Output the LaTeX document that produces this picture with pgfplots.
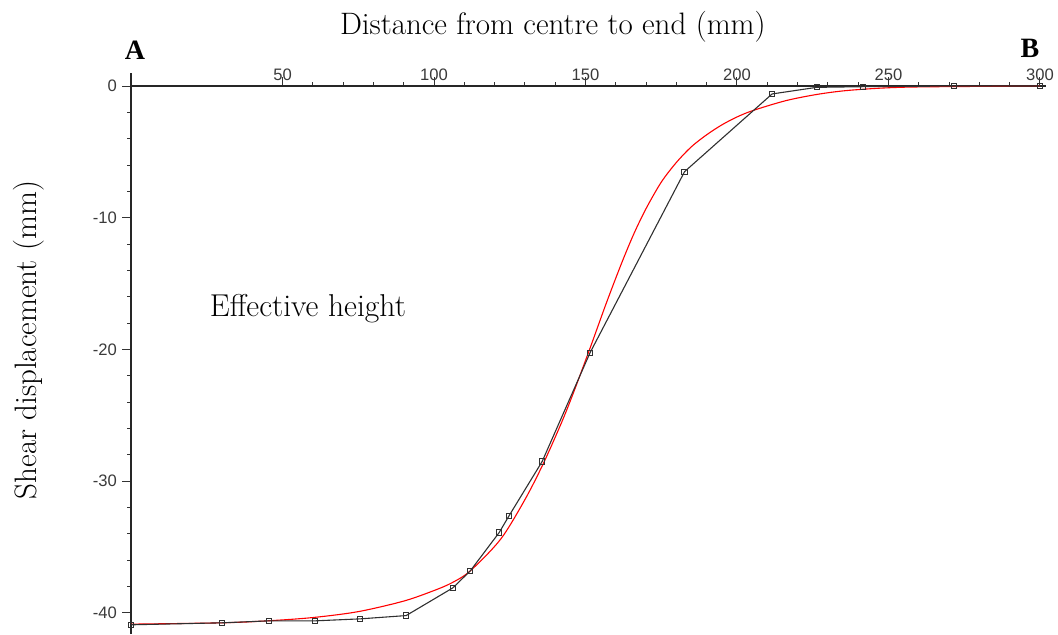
\documentclass[border=0pt]{standalone}
\usepackage{pgfplots}
\pgfplotsset{compat=1.18}
\usepackage{fontspec}
\newfontfamily\ticksans{Liberation Sans}
\newfontfamily\boldserif{Liberation Serif}
\definecolor{ticktxt}{HTML}{3A3A3A}
\definecolor{dataline}{HTML}{303030}
\begin{document}
\begin{tikzpicture}
\begin{axis}[
  scale only axis,
  width=457.5pt, height=274pt,
  xmin=0, xmax=302, ymin=-41.6, ymax=0,
  axis x line=top, axis y line=left,
  axis line style={-, color=black!85, line width=0.6pt},
  clip=false,
  xtick={50,100,150,200,250,300},
  minor x tick num=4,
  ytick={-40,-30,-20,-10,0},
  yticklabels={-40,-30,-20,-10,0},
  xticklabels={50,100,150,200,250,300},
  minor y tick num=4,
  tick align=outside,
  major tick length=4.5pt, minor tick length=2pt,
  every tick/.style={color=black!80, line width=0.5pt},
  ticklabel style={font=\ticksans\fontsize{8.3}{9.5}\selectfont, color=ticktxt},
  xticklabel style={anchor=south, yshift=-5.5pt},
  yticklabel style={anchor=east, xshift=1pt},
]
\draw[black!85, line width=0.6pt] (axis cs:0,0) -- (axis cs:0,1.0);

\addplot[color=red, line width=0.55pt, smooth, tension=0.5] coordinates {
(0,-40.85) (30,-40.75) (45,-40.6) (60,-40.35) (75,-39.9) (90,-39.1)
(100,-38.3) (106,-37.7) (112,-36.8) (122,-34.4) (130,-31.4) (136,-28.7)
(142,-25.6) (146,-23.3) (151.5,-19.9) (157,-16.4) (162,-13.4) (166,-11.2)
(170,-9.3) (175,-7.3) (180,-5.8) (185,-4.6) (190,-3.7) (195,-2.95)
(200,-2.35) (205.4,-1.85) (216.3,-1.1)
(227.4,-0.6) (238.4,-0.3) (257,-0.08) (300,0)
};

\addplot[color=dataline, line width=0.55pt, mark=square, mark size=1.3pt,
  mark options={solid, line width=0.5pt, fill=white}] coordinates {
(0,-40.9) (30,-40.75) (45.5,-40.6) (60.8,-40.6) (75.6,-40.45) (90.8,-40.2)
(106.2,-38.1) (112,-36.8) (121.5,-33.9) (124.7,-32.65) (135.7,-28.5)
(151.5,-20.25) (182.7,-6.5) (211.6,-0.6) (226.3,-0.1) (241.6,-0.05)
(271.5,0) (300,0)
};

\node[font=\fontsize{15.8}{18}\selectfont] at (axis cs:58.4,-16.9) {Effective height};

\coordinate (bl) at (rel axis cs:-0.1432,0);
\coordinate (tr) at (rel axis cs:1.0131,1.157);
\node[font=\fontsize{15.5}{18}\selectfont] at (rel axis cs:0.461,1.1077) {Distance from centre to end (mm)};
\node[font=\boldserif\bfseries\fontsize{14}{16}\selectfont] at (rel axis cs:0.0044,1.0657) {A};
\node[font=\boldserif\bfseries\fontsize{14}{16}\selectfont] at (rel axis cs:0.9825,1.069) {B};
\node[font=\fontsize{15.5}{18}\selectfont, rotate=90] at (rel axis cs:-0.1115,0.5365) {Shear displacement (mm)};
\end{axis}
\pgfresetboundingbox
\path[use as bounding box] (bl) rectangle (tr);
\end{tikzpicture}
\end{document}
